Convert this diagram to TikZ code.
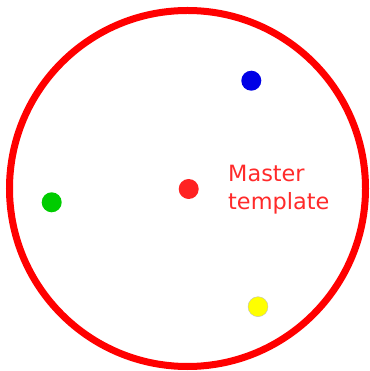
\documentclass[tikz,border=0pt]{standalone}
\usepackage{fontspec}
\setmainfont{DejaVu Sans}
\definecolor{ringred}{HTML}{FF0000}
\definecolor{dotred}{HTML}{FF2222}
\definecolor{txtred}{HTML}{FF2A2A}
\definecolor{dotgreen}{HTML}{00CC00}
\definecolor{dotblue}{HTML}{0000E6}
\definecolor{dotyellow}{HTML}{FFFF00}
\begin{document}
\begin{tikzpicture}[x=1pt,y=1pt,
  dot/.style={circle,inner sep=0pt,minimum size=20pt},
  lbl/.style={text=txtred,font=\fontsize{22.4}{27.5}\selectfont,align=left,inner sep=0pt,anchor=north west}]
\useasboundingbox (0,0) rectangle (369,371);
\draw[ringred,line width=7pt] (187.5,182.5) circle (178);
\node[dot,fill=dotblue] (blue) at (251.3,290.3) {};
\node[dot,fill=dotred] (center) at (188.7,182) {};
\node[dot,fill=dotgreen] (green) at (51.7,168.7) {};
\node[dot,fill=dotyellow,draw=black!25,line width=0.4pt] (yellow) at (258,64.3) {};
\node[lbl] (label) at (228,205.6) {Master\\template};
\end{tikzpicture}
\end{document}
